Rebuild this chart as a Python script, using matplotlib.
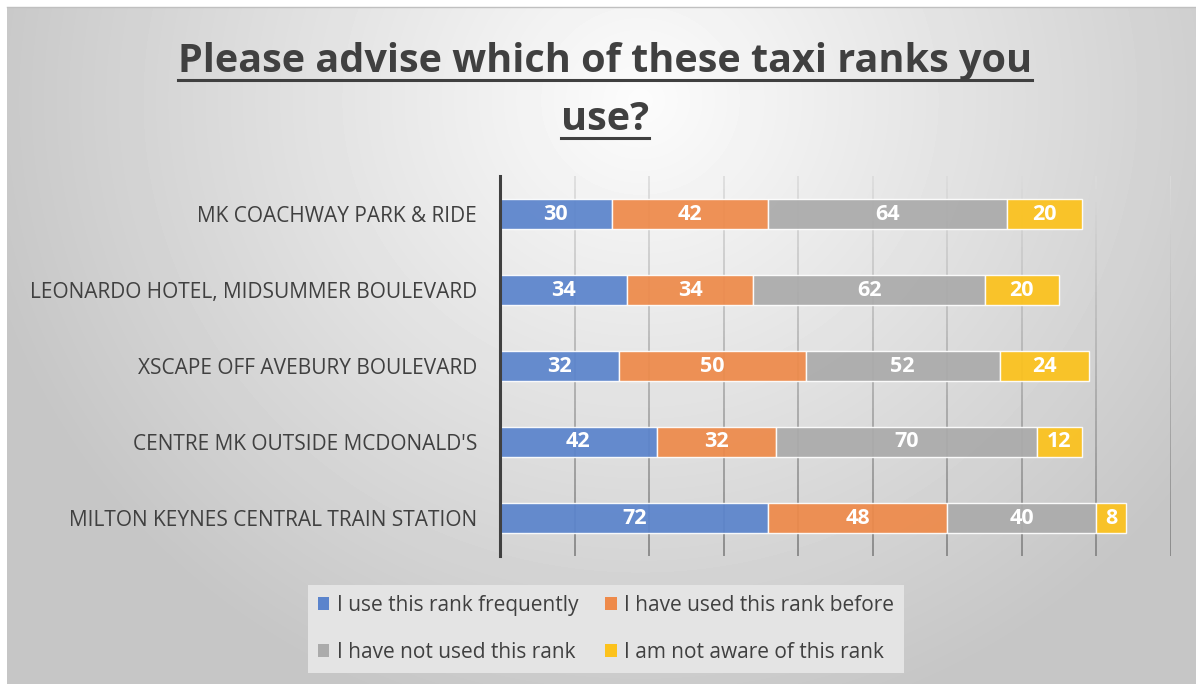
import matplotlib.pyplot as plt
import numpy as np
from matplotlib.collections import LineCollection
from matplotlib.lines import Line2D
from matplotlib.patches import Patch

plt.rcParams['font.family'] = ['Open Sans', 'DejaVu Sans']

RANKS = [
    "MK COACHWAY PARK & RIDE",
    "LEONARDO HOTEL, MIDSUMMER BOULEVARD",
    "XSCAPE OFF AVEBURY BOULEVARD",
    "CENTRE MK OUTSIDE MCDONALD'S",
    "MILTON KEYNES CENTRAL TRAIN STATION",
]
USE_FREQUENTLY = [30, 34, 32, 42, 72]
USED_BEFORE = [42, 34, 50, 32, 48]
NOT_USED = [64, 62, 52, 70, 40]
NOT_AWARE = [20, 20, 24, 12, 8]

SERIES = [
    ("I use this rank frequently", USE_FREQUENTLY, '#5B84CC'),
    ("I have used this rank before", USED_BEFORE, '#EE8A4A'),
    ("I have not used this rank", NOT_USED, '#ABABAB'),
    ("I am not aware of this rank", NOT_AWARE, '#FCC21C'),
]
TEXT_COLOR = '#404040'
W, H = 1196, 684

fig = plt.figure(figsize=(W / 100, H / 100), dpi=100, facecolor='white')

# radial grey backdrop, brightest just under the title
bg = fig.add_axes([7 / W, 0, 1 - 7 / W, 1 - 7 / H], zorder=-10)
yy, xx = np.mgrid[7:H, 7:W]
dist = np.hypot((xx - 640) * 0.95, yy - 100)
shade = 252 - 54 * np.clip(dist / 640, 0, 1)
bg.imshow(shade, cmap='gray', vmin=0, vmax=255, aspect='auto',
          interpolation='bilinear')
bg.axis('off')
fig.add_artist(Line2D([7 / W, 1], [1 - 7 / H] * 2, color='#c0c0c0', lw=1))

ax = fig.add_axes([500 / W, 128 / H, 671 / W, 380 / H])
ax.set_facecolor('none')
y = np.arange(len(RANKS))

# gridlines fade from light at the top to mid grey at the bottom
segs, cols = [], []
edges = np.linspace(-0.5, len(RANKS) - 0.5, 60)
for gx in range(20, 181, 20):
    for i in range(len(edges) - 1):
        segs.append([(gx, edges[i]), (gx, edges[i + 1])])
        t = (edges[i] + 0.5) / len(RANKS)
        g = 0.86 - 0.36 * t
        cols.append((g, g, g))
ax.add_collection(LineCollection(segs, colors=cols, linewidths=1.2, zorder=1))

left = np.zeros(len(RANKS))
for name, vals, color in SERIES:
    vals = np.array(vals)
    bars = ax.barh(y, vals, left=left, height=0.4, color=color, alpha=0.93,
                   edgecolor=(1, 1, 1, 0.6), linewidth=1, label=name, zorder=2)
    ax.bar_label(bars, labels=[str(v) for v in vals], label_type='center',
                 color='white', fontsize=15.5, fontweight='bold', zorder=3)
    left += vals

ax.set_xlim(0, 180)
ax.set_ylim(len(RANKS) - 0.5, -0.5)
ax.set_yticks(y, RANKS, fontsize=15, color=TEXT_COLOR)
ax.set_xticks([])
ax.tick_params(axis='y', length=0, pad=16.5)
for side in ['top', 'right', 'bottom']:
    ax.spines[side].set_visible(False)
ax.spines['left'].set_color(TEXT_COLOR)
ax.spines['left'].set_linewidth(2.2)

# two-line underlined title
renderer = fig.canvas.get_renderer()
for line, base in [("Please advise which of these taxi ranks you", 72),
                   ("use?", 130)]:
    t = fig.text(605 / W, 1 - base / H, line, ha='center', va='baseline',
                 fontsize=28.5, fontweight='bold', color=TEXT_COLOR)
    bb = t.get_window_extent(renderer)
    uy = 1 - (base + 8) / H
    fig.add_artist(Line2D([bb.x0 / W, bb.x1 / W], [uy, uy],
                          color=TEXT_COLOR, lw=2.2))

# legend reads across rows: matplotlib fills columns first
patches = [Patch(facecolor=c, label=n) for n, _, c in SERIES]
handles = [patches[0], patches[2], patches[1], patches[3]]
leg = fig.legend(handles=handles, ncol=2, loc='center',
                 bbox_to_anchor=(606 / W, 55 / H), fontsize=15,
                 frameon=True, facecolor='#e4e4e4', edgecolor='none',
                 framealpha=1, fancybox=False, handlelength=0.55,
                 handleheight=0.55, handletextpad=0.35, columnspacing=1.3,
                 labelspacing=1.25, borderpad=0.5)
for txt in leg.get_texts():
    txt.set_color(TEXT_COLOR)

fig.savefig('out.png', dpi=100, facecolor='white')
